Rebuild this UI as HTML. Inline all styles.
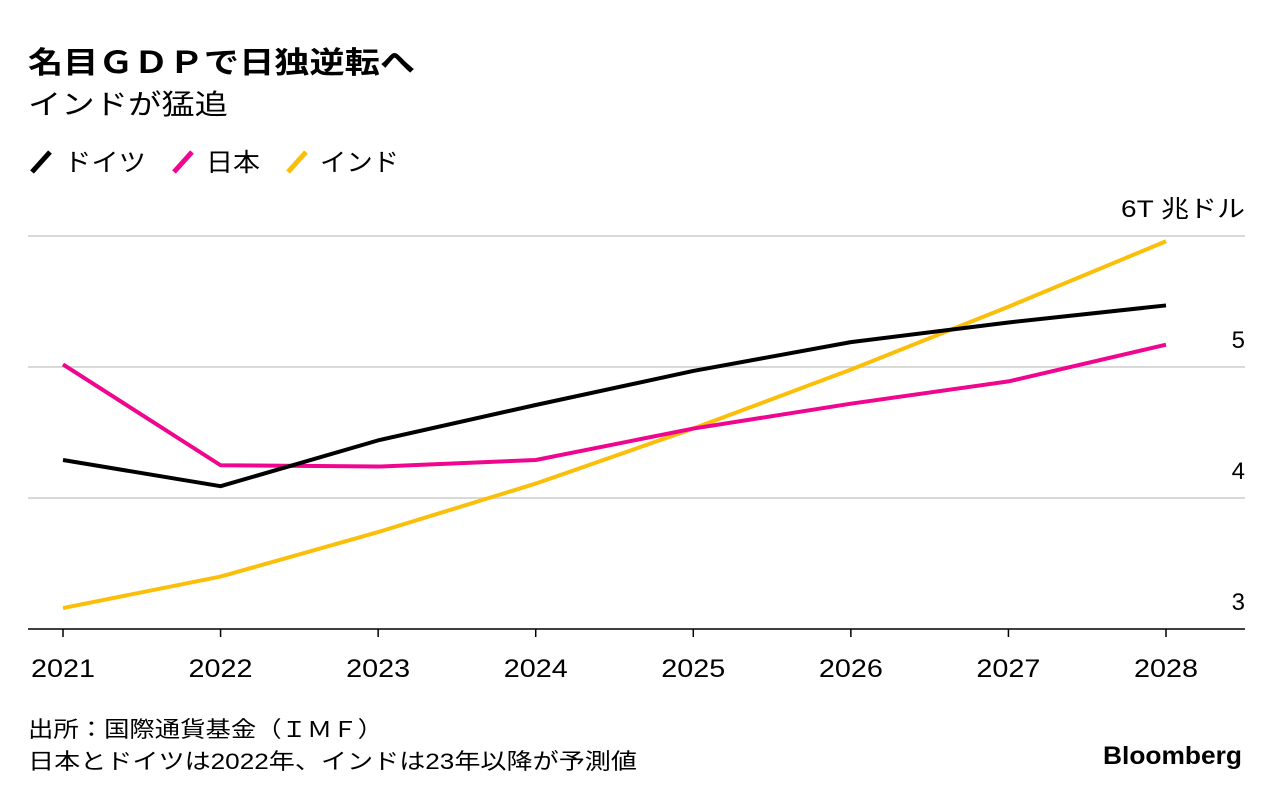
<!DOCTYPE html>
<html><head><meta charset="utf-8"><style>
body{margin:0;background:#fff;width:1280px;height:800px;overflow:hidden;font-family:"Liberation Sans","Noto Sans CJK JP",sans-serif;color:#000}
</style></head><body>
<svg width="1280" height="800" style="position:absolute;left:0;top:0">
<text x="28" y="73" font-size="30" font-weight="bold" textLength="387" lengthAdjust="spacingAndGlyphs">名目ＧＤＰで日独逆転へ</text>
<text x="28" y="114" font-size="28" textLength="200" lengthAdjust="spacingAndGlyphs">インドが猛追</text>
<g font-size="25">
<line x1="32" y1="172" x2="50" y2="152" stroke="#000" stroke-width="5"/>
<text x="64" y="171" textLength="82" lengthAdjust="spacingAndGlyphs">ドイツ</text>
<line x1="174" y1="172" x2="192" y2="152" stroke="#f0058f" stroke-width="5"/>
<text x="206" y="171" textLength="54" lengthAdjust="spacingAndGlyphs">日本</text>
<line x1="288" y1="172" x2="306" y2="152" stroke="#fbbf09" stroke-width="5"/>
<text x="320" y="171" textLength="79" lengthAdjust="spacingAndGlyphs">インド</text>
</g>
<g id="grid"></g><g id="series"></g><g id="xt"></g>
<text x="28" y="737" font-size="22" textLength="355" lengthAdjust="spacingAndGlyphs">出所：国際通貨基金（ＩＭＦ）</text>
<text x="28" y="769" font-size="22" textLength="609" lengthAdjust="spacingAndGlyphs">日本とドイツは2022年、インドは23年以降が予測値</text>
<text x="1103" y="764" font-size="25" font-weight="bold" textLength="139" lengthAdjust="spacingAndGlyphs">Bloomberg</text>
</svg>
<script>
const years=[2021,2022,2023,2024,2025,2026,2027,2028];
const germany=[4.29,4.09,4.44,4.71,4.97,5.19,5.34,5.47];
const japan=[5.02,4.25,4.24,4.29,4.53,4.72,4.89,5.17];
const india=[3.16,3.40,3.74,4.11,4.53,4.98,5.46,5.96];
const yTicks=[3,4,5,6];
const yTickLabels=["3","4","5","6T 兆ドル"];
const NS="http://www.w3.org/2000/svg";
const x=i=>63+i*(1166-63)/(years.length-1);
const y=v=>629-(v-3)*131;
function mk(t,a,p){const e=document.createElementNS(NS,t);for(const k in a)e.setAttribute(k,a[k]);p.appendChild(e);return e;}
const grid=document.getElementById('grid');
yTicks.forEach((t,i)=>{
 const l=mk('line',{x1:28,x2:1245,y1:y(t),y2:y(t),stroke:i==0?'#000':'#d9d9d9','stroke-width':i==0?1.5:2},grid);
 
 
 const a={x:1245,y:y(t)-19,'font-size':24,'text-anchor':'end'};
 if(i==3){a.textLength=124;a.lengthAdjust='spacingAndGlyphs';}
 const tx=mk('text',a,grid);
 tx.textContent=yTickLabels[i];
 
 
});
const xt=document.getElementById('xt');
years.forEach((yr,i)=>{
 const l=mk('line',{x1:x(i),x2:x(i),y1:629,y2:637,stroke:'#000','stroke-width':1.5},xt);
 
 
 const t=mk('text',{x:x(i)-32,y:677,'font-size':25,textLength:64,lengthAdjust:'spacingAndGlyphs'},xt);
 t.textContent=yr;
 
 
});
const sg=document.getElementById('series');
[[india,'#fbbf09','india-line'],[japan,'#f0058f','japan-line'],[germany,'#000','germany-line']].forEach(([d,c,n])=>{
 const p=mk('polyline',{points:d.map((v,i)=>x(i)+','+y(v)).join(' '),fill:'none',stroke:c,'stroke-width':4,'stroke-linejoin':'round'},sg);
 
 
});
</script>
</body></html>
